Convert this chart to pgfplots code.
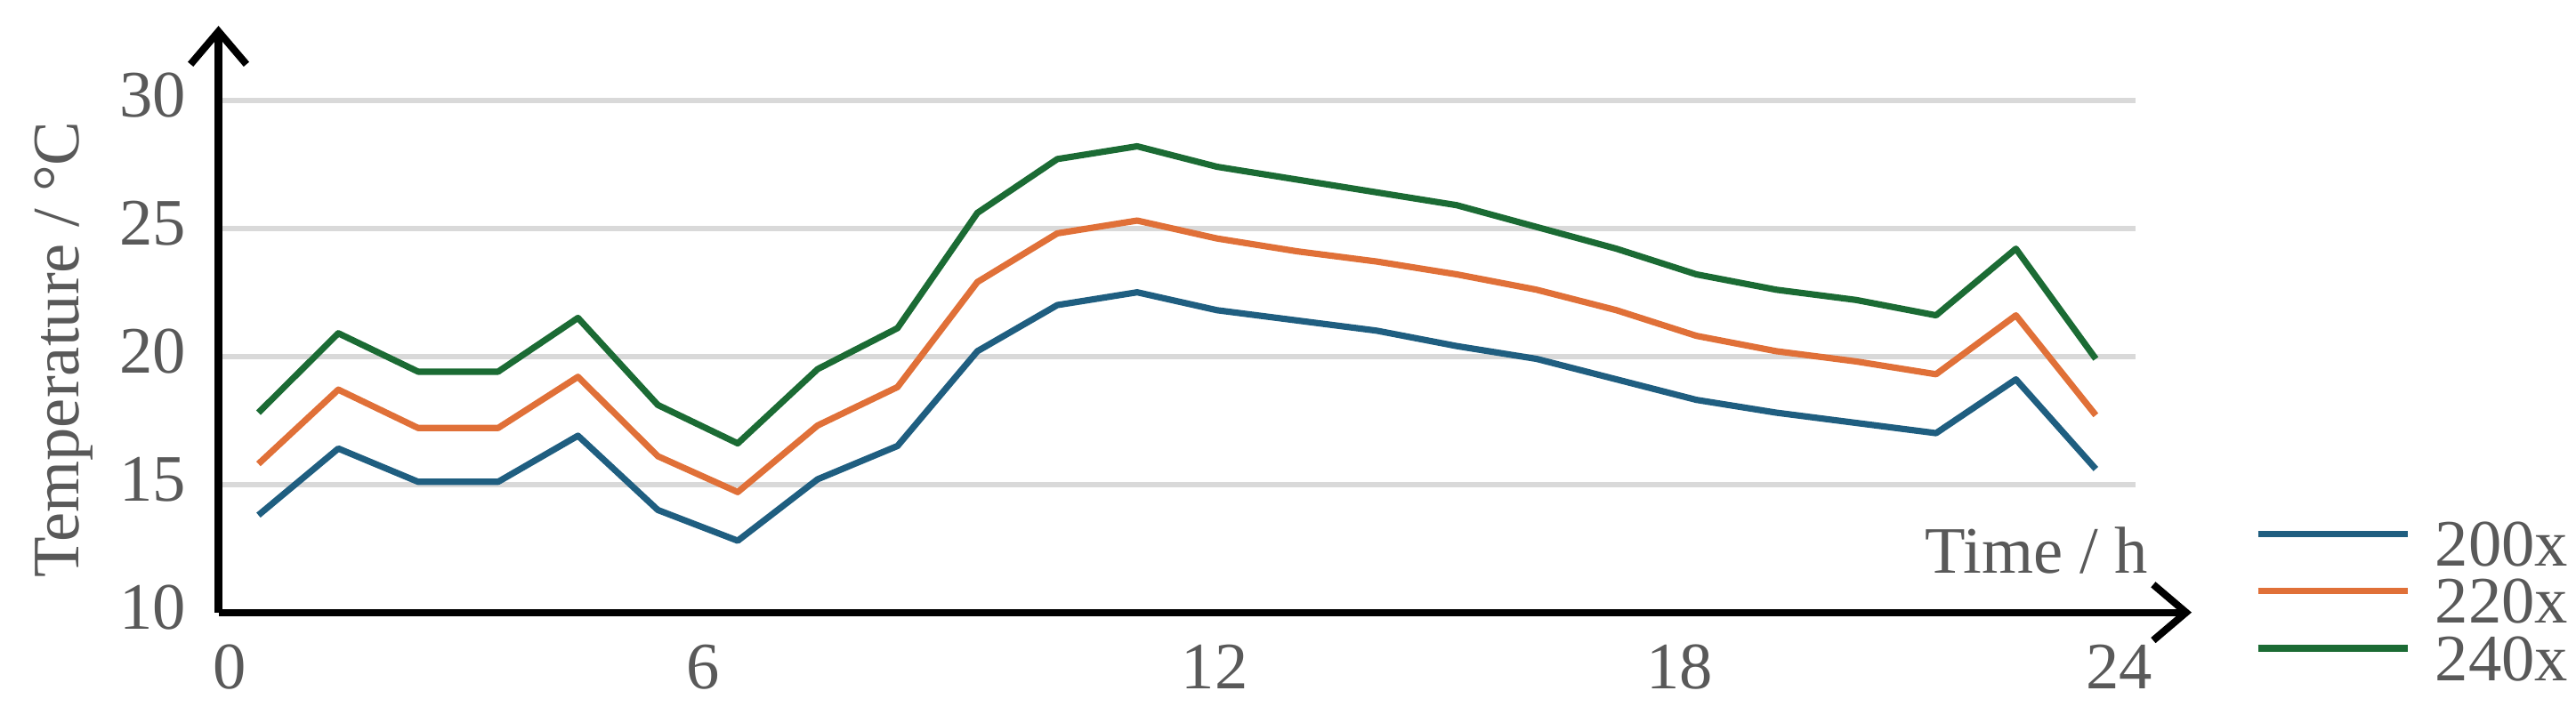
\documentclass[border=0pt]{standalone}
\usepackage{fontspec}
\setmainfont{Liberation Serif}
\usepackage{pgfplots}
\usepackage{pgfplotstable}
\pgfplotsset{compat=1.18}
\usetikzlibrary{arrows.meta}
\definecolor{cblue}{HTML}{1F5E80}
\definecolor{corange}{HTML}{E07038}
\definecolor{cgreen}{HTML}{1B6B34}
\definecolor{txtgray}{HTML}{595959}
\definecolor{gridgray}{HTML}{D9D9D9}
\newcommand\lblfont{\fontsize{11.5}{13.2}\selectfont}

\pgfplotstableread{
t b o g
0.5 13.8 15.8 17.8
1.5 16.4 18.7 20.9
2.5 15.1 17.2 19.4
3.5 15.1 17.2 19.4
4.5 16.9 19.2 21.5
5.5 14.0 16.1 18.1
6.5 12.8 14.7 16.6
7.5 15.2 17.3 19.5
8.5 16.5 18.8 21.1
9.5 20.2 22.9 25.6
10.5 22.0 24.8 27.7
11.5 22.5 25.3 28.2
12.5 21.8 24.6 27.4
13.5 21.4 24.1 26.9
14.5 21.0 23.7 26.4
15.5 20.4 23.2 25.9
16.5 19.9 22.6 25.05
17.5 19.1 21.8 24.2
18.5 18.3 20.8 23.2
19.5 17.8 20.2 22.6
20.5 17.4 19.8 22.2
21.5 17.0 19.3 21.6
22.5 19.1 21.6 24.2
23.5 15.6 17.7 19.9
}\tempdata

\begin{document}
\begin{tikzpicture}
\begin{axis}[
  scale only axis, width=116.7mm, height=31.2mm,
  xmin=0, xmax=24, ymin=10, ymax=30,
  clip=false,
  axis line style={draw=none},
  major tick length=0pt,
  ymajorgrids,
  grid style={gridgray, line width=0.9pt},
  xtick={0.14,6.07,12.47,18.29,23.79},
  xticklabels={0,6,12,18,24},
  ytick={10,15,20,25,30},
  tick label style={font=\lblfont, text=txtgray, /pgf/number format/assume math mode=true},
  xticklabel style={anchor=north, inner sep=0pt, yshift=-1.9mm},
  yticklabel style={anchor=east, inner sep=0pt, xshift=-1.9mm, yshift=0.3mm},
  legend style={at={(axis cs:25.49,10.19)}, anchor=west, draw=none, fill=none,
    inner sep=0pt, outer sep=0pt, font=\lblfont, text=txtgray,
    column sep=1.5mm, row sep=0pt,
    nodes={inner sep=0pt, text height=2.7mm, text depth=0.78mm}},
  legend cell align=left,
  legend image code/.code={\draw[#1] (0mm,1mm) -- (9.1mm,1mm);},
  every axis plot/.append style={line width=1.1pt, line join=round},
]
\addplot[cblue] table[x=t, y=b] {\tempdata};
\addlegendentry{200x}
\addplot[corange] table[x=t, y=o] {\tempdata};
\addlegendentry{220x}
\addplot[cgreen] table[x=t, y=g] {\tempdata};
\addlegendentry{240x}

\draw[line width=1.25pt, -{Straight Barb[length=2mm, width=3.4mm, line width=1.25pt]}] (axis cs:0,10) -- (axis cs:24.7,10);
\draw[line width=1.25pt, -{Straight Barb[length=2mm, width=3.4mm, line width=1.25pt]}] (axis cs:0,10) -- (axis cs:0,32.9);

\node[anchor=base east, inner sep=0pt, text=txtgray, font=\lblfont] at (axis cs:24.17,11.54) {Time / h};
\node[rotate=90, anchor=base, inner sep=0pt, text=txtgray, font=\lblfont] at (axis cs:-1.749,20.26) {Temperature / °C};

\coordinate (bl) at (axis cs:0,10);
\coordinate (tr) at (axis cs:24,30);
\end{axis}
\pgfresetboundingbox
\path ([shift={(-13.3mm,-6.2mm)}]bl) rectangle ([shift={(26.8mm,6.1mm)}]tr);
\end{tikzpicture}
\end{document}
